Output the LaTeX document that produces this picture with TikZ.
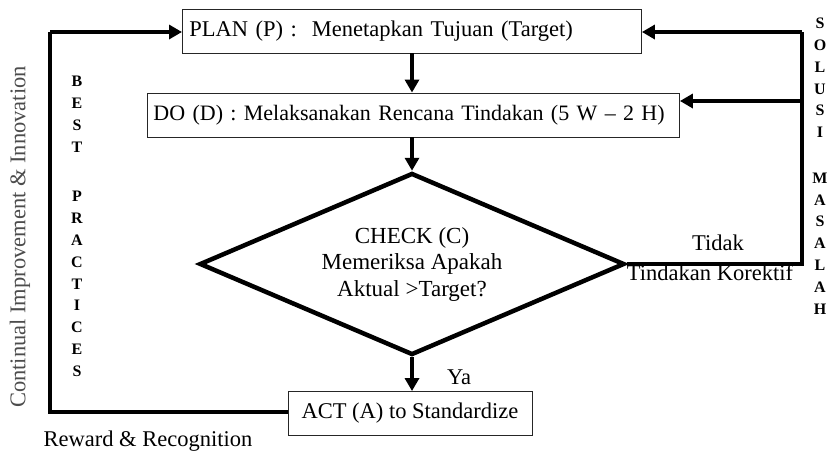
\documentclass[tikz,border=0pt]{standalone}
\usepackage{fontspec}
\setmainfont{Liberation Serif}
\usetikzlibrary{arrows.meta,shapes.geometric}
\tikzset{
  box/.style={draw=black!85, line width=0.9pt, minimum height=44pt, inner ysep=0pt, font=\fontsize{22.5}{26}\selectfont},
  flow/.style={line width=4pt, -{Triangle[length=13pt,width=14pt]}},
  plainline/.style={line width=4pt},
  txt/.style={font=\fontsize{22.5}{26}\selectfont, inner sep=0pt},
  stack/.style={font=\fontsize{16}{21.8}\selectfont\bfseries, align=center, inner sep=0pt},
}
\begin{document}
\begin{tikzpicture}[x=1pt,y=-1pt]
\useasboundingbox (0,0) rectangle (834,453);

% boxes
\node[box, anchor=west, text width=445pt, inner xsep=7pt, align=left] (plan) at (182,31) {PLAN (P) :\ \ Menetapkan Tujuan (Target)};
\node[box, anchor=west, text width=526pt, inner xsep=3pt, align=left, font=\fontsize{22}{26}\selectfont] (do) at (147,115) {\hspace{3pt}DO (D) : Melaksanakan Rencana Tindakan (5 W -- 2 H)};
\node[diamond, draw, line width=4.5pt, aspect=2.33, minimum width=425pt, minimum height=182pt, inner sep=0pt, align=center, font=\fontsize{23}{26.5}\selectfont] (chk) at (412,264) {CHECK (C)\\Memeriksa Apakah\\Aktual >Target?};
\node[box, minimum width=244pt] (act) at (410,413.5) {ACT (A) to Standardize};

% vertical flow
\draw[flow] (plan.south -| 412,0) -- (do.north -| 412,0);
\draw[flow] (do.south -| chk.north) -- (chk.north);
\draw[flow] (chk.south) -- (chk.south |- act.north);

% right feedback loop
\coordinate (rc) at (802,32);
\coordinate (rb) at (802,101);
\draw[plainline] (chk.east) -| (rc);
\draw[flow] (rc) -- (rc -| plan.east);
\draw[flow] (rb) -- (rb -| do.east);

% left loop
\coordinate (lc) at (50,32);
\coordinate (lb) at (50,412);
\draw[plainline] (act.west |- lb) -- (lb) -- (lc);
\draw[flow] (lc) -- (lc -| plan.west);

% labels
\node[txt] (tidak) at (718,243) {Tidak};
\node[txt] (korektif) at (710,273) {Tindakan Korektif};
\node[txt] (ya) at (459,377) {Ya};
\node[txt] (reward) at (148,441) {Reward \& Recognition};
\node[txt, text=black!70, rotate=90] (cont) at (20,237) {Continual Improvement \& Innovation};

\node[stack] (best) at (77,226.5) {B\\E\\S\\T\\[6pt] \\P\\R\\A\\C\\T\\I\\C\\E\\S};
\node[stack] (solusi) at (820,166) {S\\O\\L\\U\\S\\I\\[2pt] \\M\\A\\S\\A\\L\\A\\H};
\end{tikzpicture}
\end{document}
